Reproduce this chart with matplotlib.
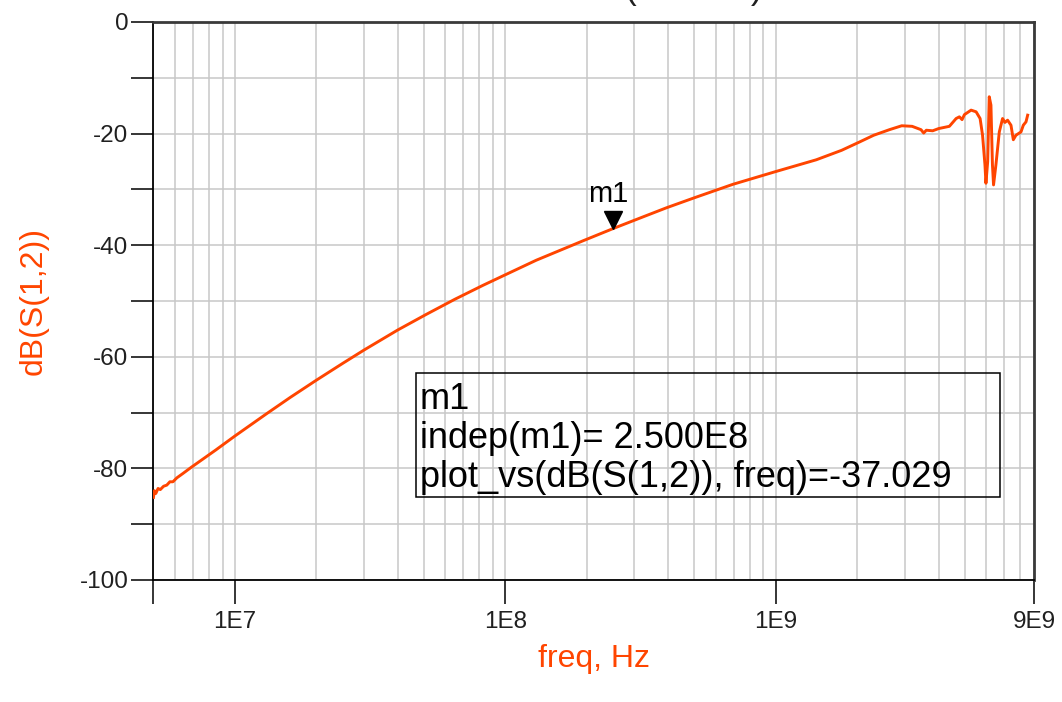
import matplotlib
matplotlib.use('Agg')
import matplotlib.pyplot as plt
from matplotlib.ticker import LogLocator, MultipleLocator, NullFormatter
from matplotlib.transforms import offset_copy
from matplotlib.patches import Rectangle

plt.rcParams['font.family'] = ['Liberation Sans', 'DejaVu Sans']
plt.rcParams['axes.unicode_minus'] = False

# S12 sweep, frequency in Hz and magnitude in dB
freq = [5.0e6, 5.04e6, 5.1e6, 5.2e6, 5.3e6, 5.45e6, 5.6e6, 5.75e6, 5.9e6,
        6.1e6, 6.43e6, 6.9e6, 7.43e6, 8.5e6, 1.0e7, 1.31e7, 1.6e7, 2.0e7,
        2.5e7, 3.0e7, 4.0e7, 5.1e7, 6.5e7, 8.26e7, 1.0e8, 1.3e8, 1.94e8,
        2.5e8, 3.2e8, 3.94e8, 5.0e8, 6.93e8, 1.0e9, 1.41e9, 1.75e9, 2.04e9,
        2.3e9, 2.63e9, 2.92e9, 3.19e9, 3.44e9, 3.52e9, 3.6e9, 3.8e9, 4.0e9,
        4.38e9, 4.64e9, 4.77e9, 4.88e9, 4.98e9, 5.27e9, 5.5e9, 5.69e9,
        5.81e9, 5.93e9, 5.98e9, 6.07e9, 6.15e9, 6.24e9, 6.32e9, 6.38e9,
        6.51e9, 6.70e9, 6.89e9, 7.03e9, 7.19e9, 7.40e9, 7.55e9, 7.72e9,
        8.06e9, 8.22e9, 8.41e9, 8.53e9]
s12_db = [-85.2, -84.0, -84.5, -83.6, -83.8, -83.2, -83.0, -82.4, -82.4,
          -81.7, -80.9, -79.8, -78.7, -76.7, -74.2, -70.2, -67.3, -64.2,
          -61.2, -58.8, -55.2, -52.4, -49.7, -47.2, -45.3, -42.7, -39.2,
          -37.029, -35.0, -33.3, -31.5, -29.1, -26.8, -24.7, -23.0, -21.5,
          -20.3, -19.3, -18.6, -18.7, -19.3, -19.9, -19.4, -19.5, -19.1,
          -18.7, -17.3, -17.0, -17.5, -16.6, -15.8, -16.1, -17.3,
          -20.3, -25.6, -28.9, -25.0, -13.4, -14.9, -25.6, -29.2,
          -25.6, -19.7, -17.3, -18.0, -17.6, -18.5, -21.1, -20.3,
          -19.7, -18.5, -17.9, -16.7]

# marker m1
m1_freq = 2.5e8
m1_db = -37.029

x_ticks = [5e6, 1e7, 1e8, 1e9, 9e9]
x_tick_labels = ['', '1E7', '1E8', '1E9', '9E9']
y_ticks = [0, -20, -40, -60, -80, -100]

trace = '#FF4500'
grid_grey = '#c8c8c8'

fig = plt.figure(figsize=(10.62, 7.02), dpi=100)
ax = fig.add_axes([0.1445, 0.1738, 0.8291, 0.7949])

ax.plot(freq, s12_db, color=trace, lw=2.1, solid_joinstyle='round', zorder=3)

ax.set_xscale('log')
ax.set_xlim(5e6, 9e9)
ax.set_ylim(-100, 0)

ax.set_xticks(x_ticks)
ax.set_xticklabels(x_tick_labels)
ax.xaxis.set_minor_locator(LogLocator(base=10, subs=range(2, 10), numticks=30))
ax.xaxis.set_minor_formatter(NullFormatter())
ax.set_yticks(y_ticks)
ax.yaxis.set_minor_locator(MultipleLocator(10))

ax.tick_params(axis='x', which='major', direction='out', length=17, width=1.1,
               color='black', labelsize=17.5, pad=5, labelcolor='#202020')
ax.tick_params(axis='x', which='minor', length=0)
ax.tick_params(axis='y', which='both', direction='out', length=16, width=1.1,
               color='black', labelsize=17.5, pad=2, labelcolor='#202020')

ax.grid(which='both', color=grid_grey, lw=1.1)
ax.set_axisbelow(True)

for side in ['left', 'bottom']:
    ax.spines[side].set_color('black')
    ax.spines[side].set_linewidth(1.3)
for side in ['top', 'right']:
    ax.spines[side].set_color('#3a3a3a')
    ax.spines[side].set_linewidth(2.0)

ax.set_xlabel('freq, Hz', color=trace, fontsize=23, labelpad=8)
ax.set_ylabel('dB(S(1,2))', color=trace, fontsize=23, labelpad=22)

# marker triangle sits above the trace, tip on the point
tri = offset_copy(ax.transData, fig=fig, x=0, y=9, units='dots')
ax.plot([m1_freq], [m1_db], marker='v', ms=13.5, color='black',
        transform=tri, zorder=4, clip_on=False)
lbl = offset_copy(ax.transData, fig=fig, x=-5, y=27, units='dots')
ax.text(m1_freq, m1_db, 'm1', transform=lbl, ha='center', va='baseline',
        fontsize=21, color='black')

# marker readout box
ax.add_patch(Rectangle((0.298, 0.1487), 0.663, 0.2223, transform=ax.transAxes,
                       fill=False, edgecolor='black', lw=1.1, zorder=4))
readout = ['m1',
           'indep(m1)= %.3fE8' % (m1_freq / 1e8),
           'plot_vs(dB(S(1,2)), freq)=%.3f' % m1_db]
for i, line in enumerate(readout):
    ax.text(0.3027, 0.307 - i * 0.0703, line, transform=ax.transAxes,
            ha='left', va='baseline', fontsize=26, color='black', zorder=5)

# plot title, mostly above the top edge
fig.text(762 / 1062, 1.002, 'Isolation (S12 dB)', ha='right', va='baseline',
         fontsize=25, color='#202020')

fig.savefig('out.png', dpi=100)
